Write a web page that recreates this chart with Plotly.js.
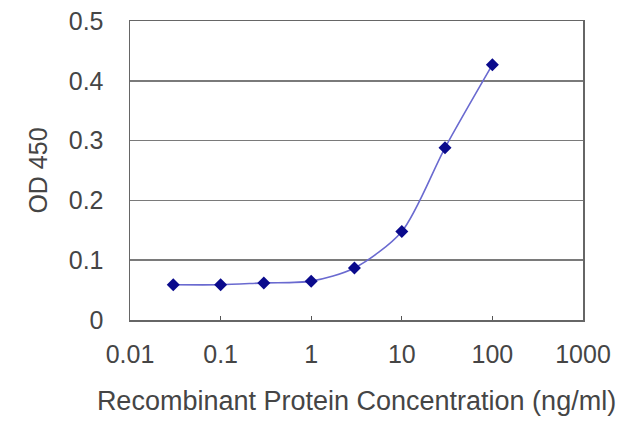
<!DOCTYPE html>
<html>
<head>
<meta charset="utf-8">
<script src="https://cdn.plot.ly/plotly-3.0.1.min.js"></script>
<style>
  html, body { margin: 0; padding: 0; background: #fff; }
  #plot { width: 640px; height: 427px; }
</style>
</head>
<body>
<div id="plot"></div>
<script>
// concentration (ng/ml) and OD 450
var conc = [0.03, 0.1, 0.3, 1, 3, 10, 30, 100];
var od450 = [0.059, 0.059, 0.062, 0.065, 0.087, 0.148, 0.288, 0.427];

var xTicks = [0.01, 0.1, 1, 10, 100, 1000];
var xTickText = ['0.01', '0.1', '1', '10', '100', '1000'];
var yTicks = [0, 0.1, 0.2, 0.3, 0.4, 0.5];
var yTickText = ['0', '0.1', '0.2', '0.3', '0.4', '0.5'];

function drawChart() {
  var trace = {
    x: conc,
    y: od450,
    type: 'scatter',
    mode: 'lines+markers',
    line: {color: '#6a6ad0', width: 1.6, shape: 'spline', smoothing: 0.8},
    marker: {symbol: 'diamond', size: 10, color: '#0a0a8c'},
    hoverinfo: 'x+y'
  };

  var tickFont = {family: 'Liberation Sans, Arial, sans-serif', size: 25, color: '#454545'};
  var titleFont = {family: 'Liberation Sans, Arial, sans-serif', size: 27, color: '#454545'};

  var layout = {
    width: 640,
    height: 427,
    margin: {l: 130, r: 57, t: 21, b: 107},
    paper_bgcolor: '#fff',
    plot_bgcolor: '#fff',
    showlegend: false,
    xaxis: {
      type: 'log',
      range: [-2, 3],
      tickvals: xTicks,
      ticktext: xTickText,
      ticks: 'inside',
      ticklen: 4,
      tickcolor: '#555',
      ticklabelstandoff: 11,
      showgrid: false,
      zeroline: false,
      showline: true,
      linecolor: '#666',
      linewidth: 1.5,
      mirror: true,
      tickfont: tickFont,
      title: {text: 'Recombinant Protein Concentration (ng/ml)', font: titleFont, standoff: 24}
    },
    yaxis: {
      range: [0, 0.5],
      tickvals: yTicks,
      ticktext: yTickText,
      ticks: '',
      ticklabelstandoff: 20,
      showgrid: true,
      gridcolor: '#7a7a7a',
      gridwidth: 1.5,
      zeroline: false,
      showline: true,
      linecolor: '#666',
      linewidth: 1.5,
      mirror: true,
      tickfont: tickFont,
      title: {text: 'OD 450', font: tickFont, standoff: 14}
    }
  };

  Plotly.newPlot('plot', [trace], layout, {displayModeBar: false, staticPlot: true});
}

drawChart();
</script>
</body>
</html>
